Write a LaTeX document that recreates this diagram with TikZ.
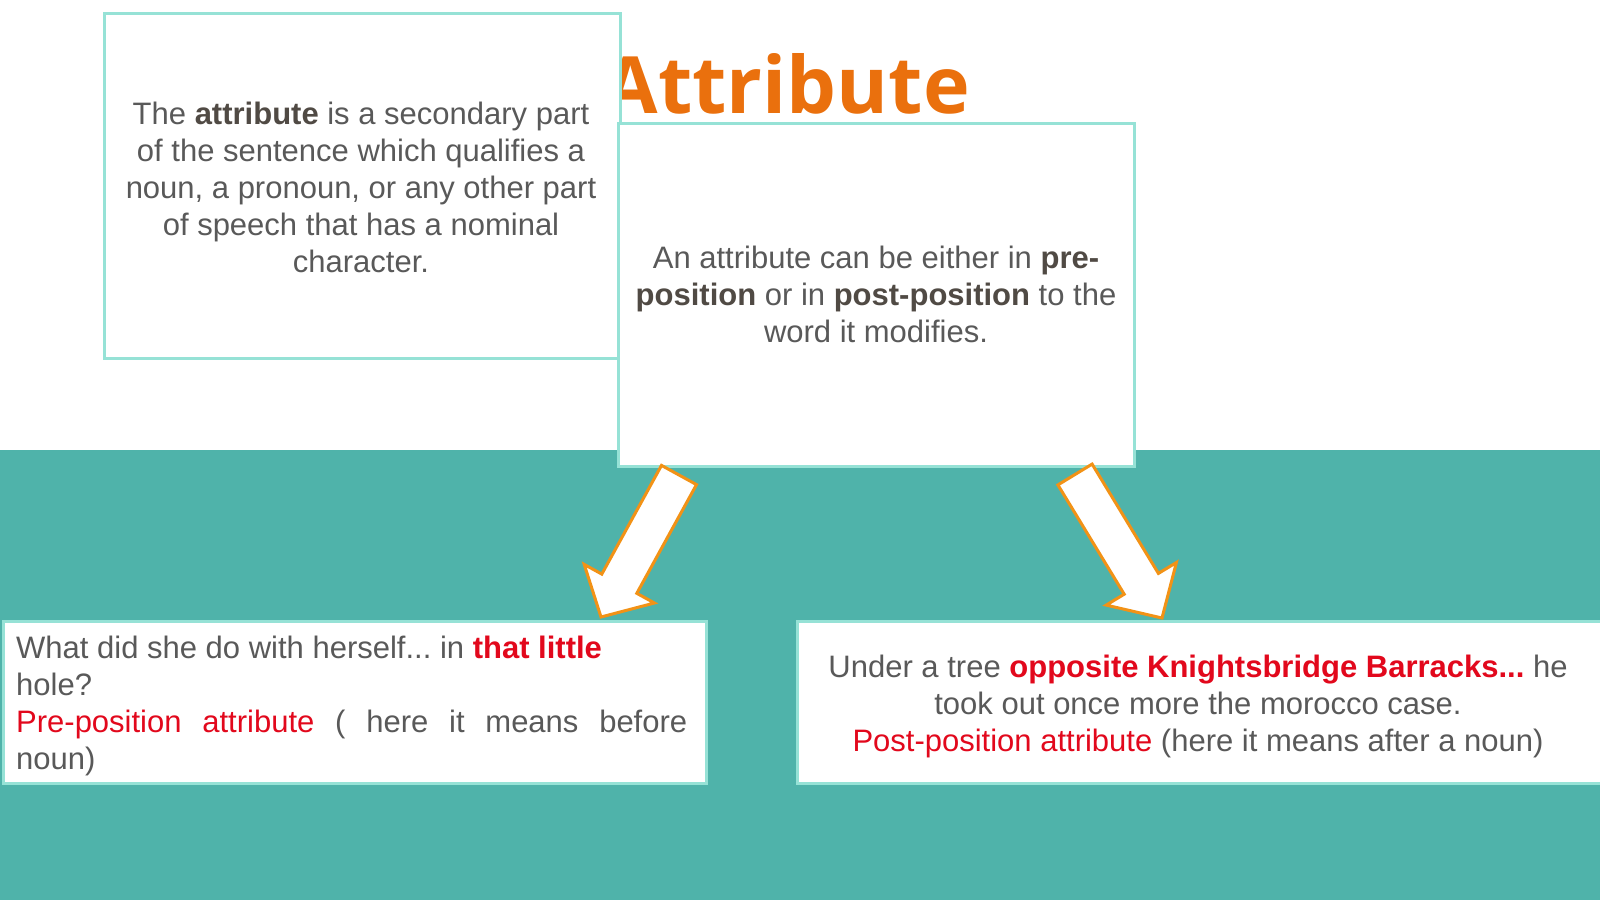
\documentclass[tikz,border=0pt]{standalone}
\usepackage{fontspec}
\setmainfont{Liberation Sans}
\newfontfamily\titlefont{Open Sans}
\frenchspacing
\definecolor{bandteal}{RGB}{79,179,170}
\definecolor{boxline}{RGB}{150,226,214}
\definecolor{titleorange}{RGB}{234,112,13}
\definecolor{arrorange}{RGB}{242,146,22}
\definecolor{bodygray}{RGB}{89,89,89}
\definecolor{boldgray}{RGB}{80,74,68}
\definecolor{hlredc}{RGB}{226,8,28}
\newcommand\hlbold[1]{{\bfseries\color{boldgray}#1}}
\newcommand\hlred[1]{{\color{hlredc}#1}}
\newcommand\hlredbold[1]{{\bfseries\color{hlredc}#1}}
\begin{document}
\begin{tikzpicture}[x=1pt,y=-1pt,
  box/.style={draw=boxline, line width=3pt, fill=white, inner sep=0, anchor=north west},
  blockarrow/.style={draw=arrorange, line width=3pt, fill=white, line join=miter},
  txt/.style={inner sep=0, anchor=base, text=bodygray, font=\fontsize{31}{37.2}\selectfont\frenchspacing}]
\useasboundingbox (0,0) rectangle (1600,900);
\fill[bandteal] (0,450) rectangle (1600,900);
\node[anchor=base east, inner sep=0, text=titleorange,
      font=\titlefont\bfseries\fontsize{79}{90}\selectfont] (title) at (970,113) {Attribute};
\node[box, minimum width=516pt, minimum height=345pt] (box1) at (103,12) {};
\node[box, minimum width=516pt, minimum height=343pt] (box2) at (617,122) {};
\node[box, minimum width=703pt, minimum height=162pt] (boxL) at (1.5,620) {};
\node[box, minimum width=804pt, minimum height=162pt] (boxR) at (796,620) {};
% block arrows
\coordinate (la1) at (661.5,465.4); \coordinate (la2) at (601.8,574.1);
\coordinate (la3) at (584.2,564.4); \coordinate (latip) at (601,617);
\coordinate (la4) at (654.4,603.0); \coordinate (la5) at (636.8,593.3);
\coordinate (la6) at (696.5,484.6);
\draw[blockarrow] (la1) -- (la2) -- (la3) -- (latip) -- (la4) -- (la5) -- (la6) -- cycle;
\coordinate (ra1) at (1092.1,464.1); \coordinate (ra2) at (1158.4,573.4);
\coordinate (ra3) at (1176.4,562.5); \coordinate (ratip) at (1162,618);
\coordinate (ra4) at (1106.2,605.1); \coordinate (ra5) at (1124.2,594.2);
\coordinate (ra6) at (1057.9,484.9);
\draw[blockarrow] (ra1) -- (ra2) -- (ra3) -- (ratip) -- (ra4) -- (ra5) -- (ra6) -- cycle;
% texts
\node[txt] (t1) at (361,124) {\begin{tabular}[t]{@{}c@{}}
The \hlbold{attribute} is a secondary part\\
of the sentence which qualifies a\\
noun, a pronoun, or any other part\\
of speech that has a nominal\\
character.\end{tabular}};
\node[txt] (t2) at (876,268) {\begin{tabular}[t]{@{}c@{}}
An attribute can be either in \hlbold{pre-}\\
\hlbold{position} or in \hlbold{post-position} to the\\
word it modifies.\end{tabular}};
\node[txt, anchor=base west] (tL) at (16,658) {\begin{tabular}[t]{@{}l@{}}
What did she do with herself... in \hlredbold{that little}\\
hole?\\
\makebox[671pt][s]{\hlred{Pre-position attribute} ( here it means before}\\
noun)\end{tabular}};
\node[txt] (tR) at (1198,677) {\begin{tabular}[t]{@{}c@{}}
Under a tree \hlredbold{opposite Knightsbridge Barracks...} he\\
took out once more the morocco case.\\
\hlred{Post-position attribute} (here it means after a noun)\end{tabular}};
\end{tikzpicture}
\end{document}
